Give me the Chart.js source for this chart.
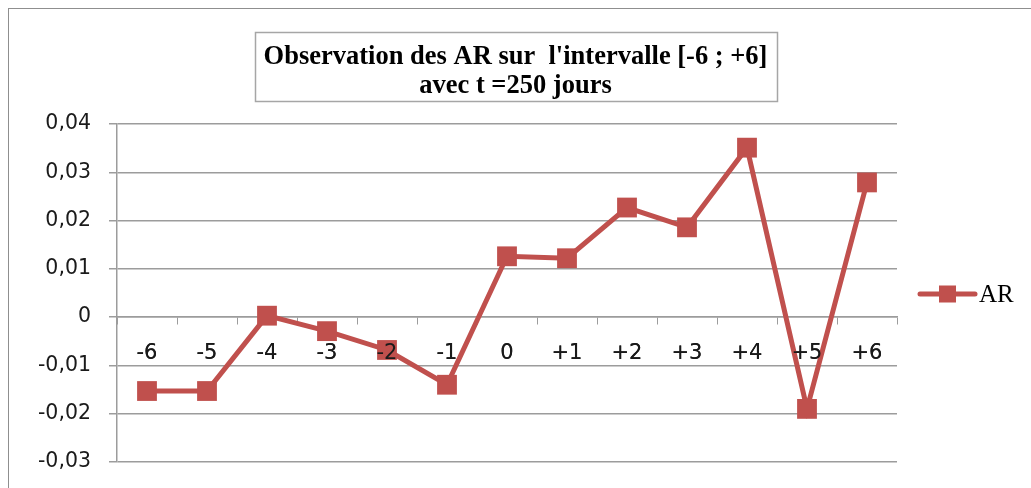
<!DOCTYPE html>
<html>
<head>
<meta charset="utf-8">
<script src="https://cdn.jsdelivr.net/npm/chart.js@4.4.1/dist/chart.umd.min.js"></script>
<style>
  html, body { margin: 0; padding: 0; background: #fff; overflow: hidden; }
  #wrap { position: relative; width: 1031px; height: 488px; }
  #frame { position: absolute; left: 8px; top: 8px; width: 1100px; height: 600px; border: 1px solid #8f8f8f; }
  #ar-chart { position: absolute; left: 0; top: 0; }
</style>
</head>
<body>
<div id="wrap">
  <div id="frame"></div>
  <canvas id="ar-chart" width="1031" height="488"></canvas>
</div>
<script>
// Data
const categories = ['-6', '-5', '-4', '-3', '-2', '-1', '0', '+1', '+2', '+3', '+4', '+5', '+6'];
const arValues = [-0.0153, -0.0153, 0.0003, -0.0029, -0.0068, -0.014, 0.0126, 0.0122, 0.0227, 0.0186, 0.0351, -0.019, 0.0279];
const titleLines = ["Observation des AR sur  l'intervalle [-6 ; +6]", 'avec t =250 jours'];
const seriesLabel = 'AR';
const yMin = -0.03, yMax = 0.04, yStep = 0.01;

const RED = '#C0504D';
const GRID = '#9c9c9c';

// boxed title like the Excel one
const boxedTitle = {
    id: 'boxedTitle',
    afterDraw(chart) {
        const ctx = chart.ctx;
        ctx.save();
        ctx.font = 'bold 26.5px "Liberation Serif", "Times New Roman", serif';
        ctx.fillStyle = '#000';
        ctx.textAlign = 'center';
        ctx.textBaseline = 'alphabetic';
        const cx = chart.width / 2;
        const w = Math.max(...titleLines.map(t => ctx.measureText(t).width));
        titleLines.forEach((t, i) => ctx.fillText(t, cx, 64 + i * 29));
        ctx.strokeStyle = '#a6a6a6';
        ctx.lineWidth = 1.5;
        ctx.strokeRect(Math.round(cx - w / 2 - 9) + 0.5, 32.5, Math.round(w + 18), 69);
        ctx.restore();
    }
};

// Excel draws the category labels over the series
const labelsOnTop = {
    id: 'labelsOnTop',
    afterDatasetsDraw(chart) {
        chart.scales.x.drawLabels(chart.chartArea);
    }
};

// legend: line with square marker, then label
const lineLegend = {
    id: 'lineLegend',
    afterDraw(chart) {
        const ctx = chart.ctx;
        const ds = chart.data.datasets[0];
        const y = 294, x0 = 920, x1 = 975;
        ctx.save();
        ctx.strokeStyle = ds.borderColor;
        ctx.lineWidth = 5;
        ctx.lineCap = 'round';
        ctx.beginPath();
        ctx.moveTo(x0, y);
        ctx.lineTo(x1, y);
        ctx.stroke();
        ctx.fillStyle = ds.pointBackgroundColor;
        ctx.fillRect((x0 + x1) / 2 - 8.5, y - 8.5, 17, 17);
        ctx.fillStyle = '#000';
        ctx.font = '25px "Liberation Serif", "Times New Roman", serif';
        ctx.textBaseline = 'middle';
        ctx.fillText(ds.label, 979, y + 1);
        ctx.restore();
    }
};

const ctx = document.getElementById('ar-chart').getContext('2d');
new Chart(ctx, {
    type: 'line',
    data: {
        labels: categories,
        datasets: [{
            label: seriesLabel,
            data: arValues,
            borderColor: RED,
            backgroundColor: RED,
            pointBackgroundColor: RED,
            pointBorderColor: RED,
            borderWidth: 5,
            pointStyle: 'rect',
            pointRadius: 14,
            pointBorderWidth: 0,
            tension: 0,
            fill: false
        }]
    },
    options: {
        responsive: false,
        animation: false,
        maintainAspectRatio: false,
        layout: {
            padding: { top: 124, right: 134, bottom: 26, left: 0 }
        },
        plugins: {
            legend: { display: false },
            title: { display: false },
            tooltip: { enabled: false }
        },
        scales: {
            x: {
                type: 'category',
                position: { y: 0 },
                offset: true,
                grid: {
                    offset: true,
                    drawOnChartArea: false,
                    drawTicks: true,
                    tickLength: 7,
                    color: GRID,
                    lineWidth: 1
                },
                border: { color: GRID, width: 1.5 },
                ticks: {
                    color: '#1a1a1a',
                    font: { family: '"DejaVu Sans", sans-serif', size: 21 },
                    padding: 17,
                    maxRotation: 0,
                    autoSkip: false
                }
            },
            y: {
                min: yMin,
                max: yMax,
                afterFit(scale) {
                    // fixed axis width, and keep the label padding out of the layout
                    scale.width = 117;
                    scale.paddingTop = 0;
                    scale.paddingBottom = 0;
                },
                grid: {
                    color: GRID,
                    lineWidth: 1.5,
                    tickLength: 8
                },
                border: { color: GRID, width: 1.5 },
                ticks: {
                    stepSize: yStep,
                    color: '#1a1a1a',
                    font: { family: '"DejaVu Sans", sans-serif', size: 20.5 },
                    padding: 18,
                    callback: v => Math.abs(v) < 1e-9 ? '0' : v.toFixed(2).replace('.', ',')
                }
            }
        }
    },
    plugins: [boxedTitle, labelsOnTop, lineLegend]
});
</script>
</body>
</html>
